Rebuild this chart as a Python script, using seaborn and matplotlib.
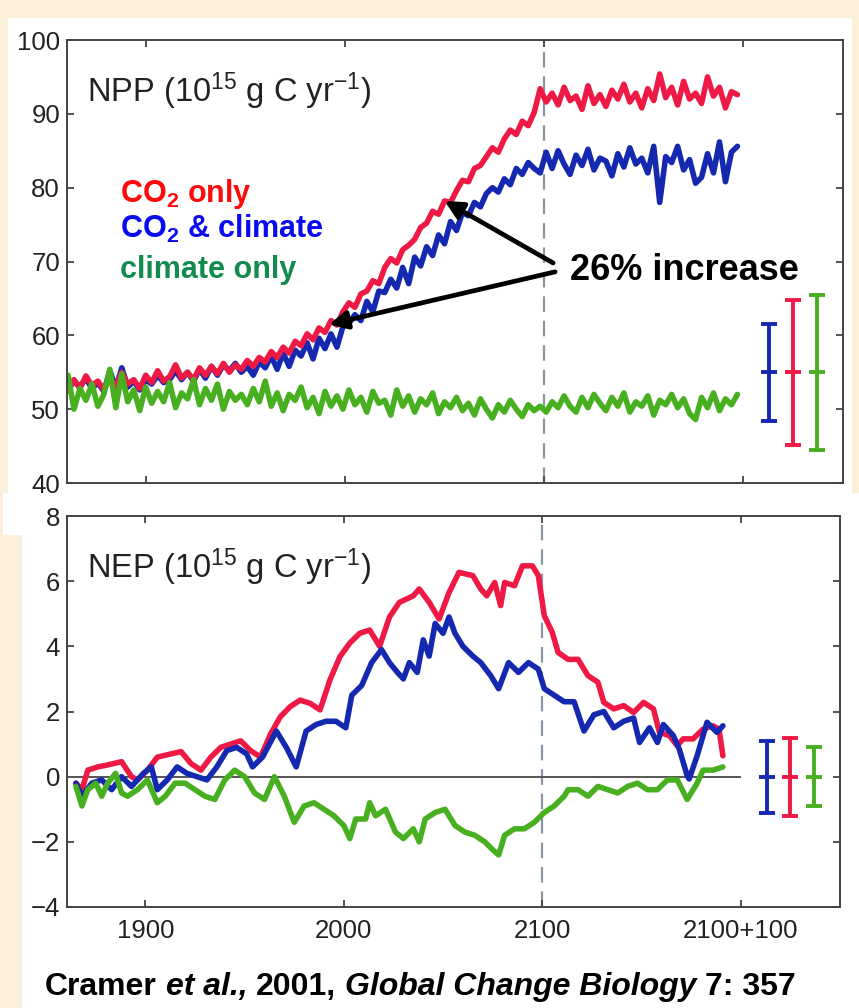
import numpy as np
import matplotlib
matplotlib.use("Agg")
import matplotlib.pyplot as plt
from matplotlib.patches import Rectangle
import seaborn as sns

# ---------------- data ----------------
# NPP, 3-year samples 1861-2197 (10^15 g C / yr)
npp_years = np.arange(1861, 2198, 3)
npp_co2 = [52.5, 54.0, 52.8, 54.5, 53.2, 53.8, 52.6, 54.2, 53.0, 55.0, 53.4, 54.0, 52.8, 54.6,
           53.6, 55.2, 53.8, 54.4, 56.0, 54.2, 55.0, 54.0, 55.6, 54.6, 55.8, 54.8, 56.2, 55.0, 56.0, 55.4,
           56.6, 55.8, 57.0, 56.4, 57.8, 57.0, 58.4, 57.6, 59.2, 58.6,
           60.2, 59.4, 61.0, 60.4, 62.0, 61.4, 63.2,
           64.4, 63.8, 65.6, 66.0, 67.4, 67.0,
           69.2, 70.4, 69.8, 71.6, 72.2, 73.0, 74.6,
           75.2, 76.8, 76.4, 78.2, 78.0, 79.6, 81.0,
           80.8, 82.6, 83.0, 84.2, 85.4, 84.8,
           86.6, 87.8, 87.2, 89.0, 88.4, 90.2, 93.4,
           91.6, 92.8, 91.2, 93.6, 91.8, 92.4, 90.6, 93.8, 91.4, 92.6, 91.0, 93.2, 92.0, 94.0, 91.6,
           92.8, 90.8, 93.4, 91.8, 95.4, 92.2, 93.6, 91.2, 94.4, 92.0, 92.8, 91.4, 95.0, 92.4, 93.6,
           90.8, 93.0, 92.6]
npp_both = [52.6, 53.8, 53.0, 54.2, 52.8, 53.6, 52.4, 55.2, 52.8, 55.6, 53.0, 53.8, 52.6, 54.0,
            53.4, 54.6, 53.6, 54.0, 55.2, 54.0, 55.0, 53.8, 55.4, 54.2, 55.8, 54.6, 56.0, 55.2, 56.2, 55.0,
            55.8, 54.6, 56.4, 55.6, 57.2, 55.4, 57.6, 55.8, 58.0, 57.2,
            59.0, 56.8, 59.6, 58.2, 60.2, 58.4, 61.2,
            61.6, 62.8, 62.0, 64.6, 63.2, 66.0,
            65.8, 67.6, 66.4, 69.2, 67.0, 70.6, 69.4,
            72.0, 70.8, 73.6, 72.4, 75.4, 74.2, 76.6,
            76.2, 78.0, 77.4, 79.2, 80.0, 79.4,
            81.2, 80.4, 82.6, 81.8, 83.4, 82.6, 82.0,
            84.8, 82.6, 85.0, 83.2, 81.8, 84.4, 83.0, 85.2, 82.4, 84.0, 83.6, 81.6, 84.6, 82.8, 85.4,
            83.2, 84.0, 82.0, 85.6, 78.0, 84.2, 83.4, 85.6, 82.4, 83.8, 80.6, 81.4, 84.6, 82.0, 86.2,
            80.8, 84.8, 85.6]
npp_clim = [54.6, 50.0, 52.8, 51.2, 53.4, 50.4, 52.0, 55.4, 50.2, 54.8, 51.0, 52.6, 49.8, 53.0,
            50.8, 52.4, 51.0, 53.6, 50.2, 52.2, 51.4, 54.0, 50.6, 52.8, 51.2, 53.4, 50.0, 52.4, 51.2, 52.0,
            50.6, 52.8, 51.0, 53.8, 50.4, 52.2, 49.8, 52.0, 51.2, 53.0,
            50.2, 51.6, 49.4, 52.4, 50.4, 51.8, 50.0,
            52.6, 50.6, 51.6, 49.6, 52.4, 50.8,
            51.2, 49.2, 52.6, 50.4, 51.8, 49.6, 51.4,
            50.6, 52.2, 49.4, 51.0, 50.2, 51.6, 49.8,
            50.8, 49.2, 51.4, 50.0, 48.8, 50.6,
            49.6, 51.2, 50.0, 49.0, 50.6, 49.8, 50.4,
            49.6, 51.0, 50.2, 51.8, 50.4, 49.6, 51.6, 50.2, 52.0, 50.8, 49.8, 51.6, 50.4, 52.2, 49.6,
            51.0, 50.4, 51.8, 49.2, 51.2, 50.6, 52.0, 50.2, 51.4, 49.4, 48.6, 51.6, 50.2, 52.2, 49.8,
            51.4, 50.6, 52.0]

# NEP (10^15 g C / yr)
nep_co2_years = [1865, 1868, 1871, 1876, 1881, 1888, 1893, 1896, 1901, 1906, 1913, 1918, 1923, 1928,
                 1933, 1938, 1943, 1948, 1953, 1958, 1963, 1968, 1973, 1978, 1983, 1988, 1993, 1998,
                 2003, 2008, 2013, 2018, 2023, 2028, 2035, 2038, 2043, 2048, 2053, 2058, 2065, 2069,
                 2072, 2076, 2079, 2081, 2086, 2090, 2095, 2098, 2101, 2105, 2108, 2113, 2118, 2123,
                 2128, 2131, 2136, 2141, 2146, 2151, 2156, 2159, 2164, 2168, 2171, 2176, 2181, 2186,
                 2189, 2191]
nep_co2 = [-0.2, -0.4, 0.2, 0.3, 0.36, 0.46, 0.0, -0.1, 0.2, 0.6, 0.7, 0.77, 0.4, 0.2,
           0.6, 0.9, 1.0, 1.1, 0.8, 0.6, 1.3, 1.84, 2.15, 2.35, 2.25, 2.05, 2.97, 3.68,
           4.1, 4.4, 4.5, 4.0, 4.9, 5.35, 5.55, 5.76, 5.35, 4.84, 5.65, 6.27, 6.17, 5.76,
           5.55, 5.96, 5.25, 5.96, 5.86, 6.47, 6.47, 6.17, 4.94, 4.43, 3.81, 3.6, 3.6, 3.1,
           2.9, 2.28, 2.08, 2.18, 1.97, 2.28, 2.08, 1.36, 1.26, 0.95, 1.16, 1.16, 1.46, 1.56,
           1.46, 0.64]
nep_both_years = [1865, 1868, 1873, 1878, 1883, 1888, 1893, 1899, 1903, 1906, 1911, 1916, 1921, 1926,
                  1931, 1936, 1941, 1946, 1951, 1954, 1959, 1966, 1971, 1976, 1981, 1986, 1991, 1996,
                  2001, 2004, 2009, 2014, 2019, 2023, 2027, 2030, 2033, 2037, 2040, 2043, 2046, 2050,
                  2053, 2056, 2060, 2065, 2069, 2074, 2078, 2083, 2088, 2093, 2098, 2101, 2106, 2111,
                  2116, 2121, 2126, 2131, 2136, 2141, 2146, 2149, 2154, 2158, 2161, 2166, 2169, 2173,
                  2174, 2178, 2183, 2188, 2191]
nep_both = [-0.2, -0.6, -0.2, -0.1, -0.4, 0.0, -0.3, 0.1, 0.3, -0.4, -0.1, 0.3, 0.1, 0.0,
            -0.1, 0.3, 0.8, 0.9, 0.7, 0.3, 0.6, 1.4, 0.9, 0.3, 1.4, 1.6, 1.7, 1.7,
            1.5, 2.5, 2.8, 3.5, 3.9, 3.5, 3.2, 3.0, 3.5, 3.2, 4.2, 3.7, 4.7, 4.4,
            4.9, 4.4, 4.0, 3.7, 3.5, 3.1, 2.7, 3.5, 3.2, 3.5, 3.3, 2.7, 2.5, 2.3,
            2.3, 1.4, 1.9, 2.0, 1.5, 1.7, 1.8, 1.05, 1.5, 1.05, 1.6, 1.26, 0.85, 0.03,
            -0.07, 0.64, 1.67, 1.36, 1.56]
nep_clim_years = [1865, 1868, 1871, 1875, 1878, 1881, 1885, 1888, 1891, 1896, 1901, 1906, 1910, 1915,
                  1920, 1925, 1930, 1935, 1940, 1945, 1950, 1955, 1960, 1965, 1970, 1975, 1980, 1985,
                  1990, 1995, 2000, 2003, 2006, 2011, 2013, 2016, 2021, 2026, 2030, 2035, 2038, 2041,
                  2046, 2051, 2056, 2061, 2066, 2071, 2076, 2078, 2081, 2086, 2091, 2096, 2101, 2106,
                  2111, 2113, 2118, 2123, 2128, 2133, 2138, 2143, 2148, 2153, 2158, 2163, 2168, 2173,
                  2178, 2181, 2186, 2191]
nep_clim = [-0.3, -0.9, -0.4, -0.2, -0.6, -0.2, 0.1, -0.5, -0.6, -0.4, -0.1, -0.8, -0.6, -0.2,
            -0.2, -0.4, -0.6, -0.7, -0.1, 0.2, 0.0, -0.5, -0.7, 0.0, -0.6, -1.4, -0.9, -0.8,
            -1.0, -1.2, -1.5, -1.9, -1.3, -1.3, -0.8, -1.2, -1.0, -1.7, -1.9, -1.6, -2.0, -1.3,
            -1.1, -1.0, -1.5, -1.7, -1.8, -2.0, -2.3, -2.4, -1.8, -1.6, -1.6, -1.4, -1.1, -0.9,
            -0.6, -0.4, -0.4, -0.6, -0.3, -0.4, -0.5, -0.3, -0.2, -0.4, -0.4, -0.1, -0.1, -0.7,
            -0.2, 0.2, 0.2, 0.3]

# interannual variability bars (blue, red, green)
spread_x = [2213, 2225, 2237]
npp_spread_mid = [55.0, 55.0, 55.0]
npp_spread_half = [6.6, 9.8, 10.5]
nep_spread_mid = [0.0, 0.0, 0.0]
nep_spread_half = [1.1, 1.2, 0.9]

xtick_pos = [1900, 2000, 2100, 2200]
xtick_labels = ["1900", "2000", "2100", "2100+100"]
npp_yticks = [40, 50, 60, 70, 80, 90, 100]
nep_yticks = [-4, -2, 0, 2, 4, 6, 8]

# ---------------- style ----------------
RED, BLUE, GREEN = "#EE1A45", "#1428B0", "#48B020"
TXT_RED, TXT_BLUE, TXT_GREEN = "#FF0A0A", "#0A0AF0", "#138A50"
CREAM = "#FCF0DA"
AXC = "#444444"

sns.set_theme(style="ticks")
plt.rcParams["font.family"] = ["Liberation Sans", "DejaVu Sans"]
plt.rcParams["mathtext.default"] = "regular"

W, H = 859, 1008
fig = plt.figure(figsize=(W / 100, H / 100), dpi=100, facecolor=CREAM)

# white paper behind the panels
for (x0, y0, x1, y1) in [(8, 18, 852, 493), (3, 493, 859, 535), (22, 535, 859, 1008)]:
    fig.add_artist(Rectangle((x0 / W, 1 - y1 / H), (x1 - x0) / W, (y1 - y0) / H,
                             transform=fig.transFigure, facecolor="white",
                             edgecolor="none", zorder=-5))

ax1 = fig.add_axes([67 / W, 1 - 483 / H, (843 - 67) / W, (483 - 40) / H])
ax2 = fig.add_axes([67 / W, 1 - 907 / H, (840 - 67) / W, (907 - 516) / H])

LW = 4.0
sns.lineplot(x=npp_years, y=npp_both, ax=ax1, color=BLUE, lw=LW, errorbar=None)
sns.lineplot(x=npp_years, y=npp_co2, ax=ax1, color=RED, lw=LW, errorbar=None)
sns.lineplot(x=npp_years, y=npp_clim, ax=ax1, color=GREEN, lw=LW, errorbar=None)

sns.lineplot(x=nep_co2_years, y=nep_co2, ax=ax2, color=RED, lw=LW, errorbar=None)
sns.lineplot(x=nep_both_years, y=nep_both, ax=ax2, color=BLUE, lw=LW, errorbar=None)
sns.lineplot(x=nep_clim_years, y=nep_clim, ax=ax2, color=GREEN, lw=LW, errorbar=None)

ax2.hlines(0, 1861, 2200, color="#555555", lw=1.4, zorder=1)

for ax, mids, halves in [(ax1, npp_spread_mid, npp_spread_half),
                         (ax2, nep_spread_mid, nep_spread_half)]:
    for x, m, h, c in zip(spread_x, mids, halves, [BLUE, RED, GREEN]):
        ax.errorbar([x], [m], yerr=[h], color=c, elinewidth=2.8, capsize=6, capthick=2.8)
        ax.plot([x], [m], marker="_", ms=12, mew=2.8, color=c)
    ax.axvline(2100, color="#8A96A3", lw=1.6, dashes=(7, 4), zorder=0.5)
    ax.set_xlim(1860.5, 2250)
    ax.set_xticks(xtick_pos)
    for s in ax.spines.values():
        s.set_color(AXC)
        s.set_linewidth(1.4)
    ax.tick_params(direction="in", length=5, width=1.3, color=AXC, top=True, right=True,
                   labelsize=18.5, labelcolor="#222222", pad=5)
    ax.set_xlabel("")
    ax.set_ylabel("")

ax1.set_ylim(40, 100)
ax1.set_yticks(npp_yticks)
ax1.tick_params(labelbottom=False)
ax2.set_ylim(-4, 8)
ax2.set_yticks(nep_yticks)
ax2.set_xticklabels(xtick_labels)
ax2.tick_params(axis="x", pad=9)

ax1.text(0.026, 0.86, r"NPP (10$^{15}$ g C yr$^{-1}$)", transform=ax1.transAxes,
         fontsize=23.5, color="#222222", va="baseline")
ax2.text(0.026, 0.841, r"NEP (10$^{15}$ g C yr$^{-1}$)", transform=ax2.transAxes,
         fontsize=23.5, color="#222222", va="baseline")

for label, yb, c in [(r"CO$_2$ only", 0.634, TXT_RED),
                     (r"CO$_2$ & climate", 0.553, TXT_BLUE),
                     ("climate only", 0.463, TXT_GREEN)]:
    ax1.text(0.068, yb, label, transform=ax1.transAxes, fontsize=22,
             fontweight="bold", color=c, va="baseline")

# arrows from the label onto the CO2-only curve
tip_years = [2050, 1992]
tail_pts = [(2104.5, 69.8), (2105.5, 68.6)]
for ty, (tx0, ty0) in zip(tip_years, tail_pts):
    ax1.annotate("", xy=(ty, np.interp(ty, npp_years, npp_co2)), xytext=(tx0, ty0),
                 arrowprops=dict(arrowstyle="-|>,head_length=0.9,head_width=0.45",
                                 lw=3.4, color="black", shrinkA=0, shrinkB=0))
ax1.text(2113, 68.8, "26% increase", fontsize=26, fontweight="bold", color="black",
         va="center", ha="left")

# citation line built from styled pieces
renderer = fig.canvas.get_renderer()
pieces = [("Cramer", "normal"), ("et al.,", "italic"), ("2001,", "normal"),
          ("Global Change Biology", "italic"), ("7: 357", "normal")]
fs = 23
space = 0.278 * fs * 100 / 72
x = 45.0
for txt, st in pieces:
    t = fig.text(x / W, 1 - 995 / H, txt, fontsize=fs, fontweight="bold", style=st,
                 color="black", va="baseline", ha="left")
    x += t.get_window_extent(renderer).width + space

fig.savefig("out.png", dpi=100, facecolor=CREAM)
